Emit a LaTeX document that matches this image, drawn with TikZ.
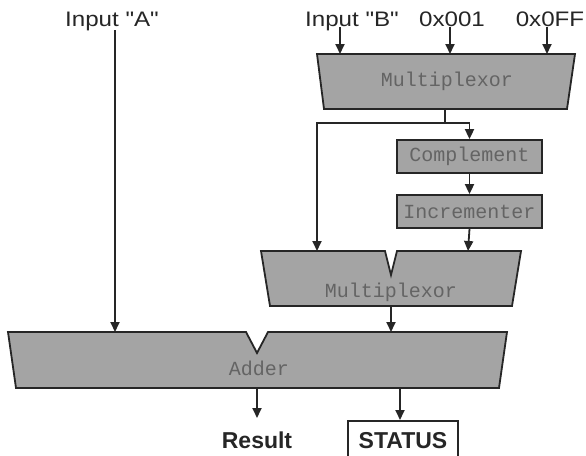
\documentclass[tikz,border=0pt]{standalone}
\usepackage{fontspec}
\setmainfont{Liberation Sans}[Ligatures=TeXOff]
\newfontfamily\monofont{Liberation Mono}
\usetikzlibrary{arrows.meta}
\definecolor{blockfill}{HTML}{A4A4A4}
\definecolor{blocktext}{HTML}{646464}
\definecolor{edge}{HTML}{262626}
\newcommand\widetext[1]{\scalebox{1.15}[1]{#1}}

\begin{document}
\begin{tikzpicture}[x=1pt,y=-1pt,
  block/.style={draw=edge,line width=1.8pt,fill=blockfill,line join=miter},
  blocklabel/.style={font=\monofont\fontsize{20}{20}\selectfont,text=blocktext,inner sep=0pt},
  wire/.style={draw=edge,line width=1.8pt},
  arr/.style={wire,-{Triangle[length=10pt,width=9pt]}},
  inlabel/.style={font=\fontsize{21}{21}\selectfont,text=edge,inner sep=0pt,anchor=base},
  outlabel/.style={font=\bfseries\fontsize{23}{23}\selectfont,text=edge,inner sep=0pt,anchor=base}
]
\clip (0,0) rectangle (586,455);
\fill[white] (0,0) rectangle (586,455);

% ---- input labels
\node[inlabel] (inA) at (112,27) {\widetext{Input "A"}};
\node[inlabel] (inB) at (352,27) {\widetext{Input "B"}};
\node[inlabel] (one) at (452,27) {\widetext{0x001}};
\node[inlabel] (mask) at (550,27) {\widetext{0x0FF}};

% ---- first multiplexor
\draw[block] (317,54) -- (575,54) -- (567,109) -- (324,109) -- cycle;
\node[blocklabel] (mux1) at (447,81) {Multiplexor};
\coordinate (mux1inB) at (340,54);
\coordinate (mux1one) at (450,54);
\coordinate (mux1mask) at (547,54);
\coordinate (mux1out) at (445,109);

% ---- complement and incrementer
\node[block,minimum width=145pt,minimum height=33pt,inner sep=0pt] (comp) at (469.5,156.5) {};
\node[blocklabel] (complabel) at (comp) {Complement};
\node[block,minimum width=145pt,minimum height=33pt,inner sep=0pt] (incr) at (469.5,211.5) {};
\node[blocklabel] (incrlabel) at (incr) {Incrementer};

% ---- second multiplexor
\draw[block] (261,251) -- (385,251) -- (391,275) -- (397,251) -- (521,251)
  -- (512,306) -- (270,306) -- cycle;
\node[blocklabel] (mux2) at (391,292) {Multiplexor};
\coordinate (mux2a) at (317,251);
\coordinate (mux2b) at (468,251);
\coordinate (mux2out) at (391,306);

% ---- adder
\draw[block] (8,332) -- (246,332) -- (257,353) -- (268,332) -- (507,332)
  -- (499,388) -- (16,388) -- cycle;
\node[blocklabel] (adder) at (259,368) {Adder};
\coordinate (adda) at (115,332);
\coordinate (addb) at (391,332);
\coordinate (addres) at (257,388);
\coordinate (addstat) at (400,388);

% ---- outputs
\node[outlabel] (result) at (257,448) {Result};
\node[draw=edge,line width=1.8pt,minimum width=110pt,minimum height=50pt,anchor=north,inner sep=0pt] (statbox) at (403,420) {};
\node[outlabel] (status) at (403,448) {STATUS};

% ---- connectors
\draw[arr] (adda |- inA.base) ++(0,3) -- (adda);
\draw[arr] (mux1inB |- inB.base) -- (mux1inB);
\draw[arr] (mux1one |- one.base) -- (mux1one);
\draw[arr] (mux1mask |- mask.base) -- (mux1mask);

\coordinate (split) at (445,123);
\draw[wire] (mux1out) -- (split);
\draw[arr] (split) -| (comp.north);
\draw[arr] (split) -| (mux2a);
\draw[arr] (comp.south) -- (incr.north);
\draw[arr] (incr.south) -- (mux2b);
\draw[arr] (mux2out) -- (addb);
\draw[arr] (addres) -- (addres |- 0,418);
\draw[arr] (addstat) -- (addstat |- statbox.north);
\end{tikzpicture}
\end{document}
